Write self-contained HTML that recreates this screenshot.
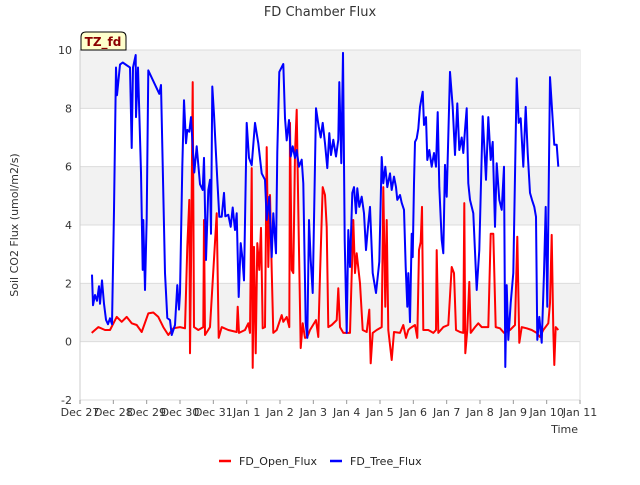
<!DOCTYPE html>
<html><head><meta charset="utf-8"><style>
body{margin:0;background:#fff;}
svg text{font-family:"DejaVu Sans","Liberation Sans",sans-serif;}
</style></head><body>
<svg id="chart" width="640" height="480" xmlns="http://www.w3.org/2000/svg">
<text x="320" y="16" text-anchor="middle" font-size="13" fill="#333">FD Chamber Flux</text>
<g id="bands"></g>
<g id="grid"></g>
<g id="yticks"></g>
<g id="xticks"></g>
<g id="series"></g>
<text transform="translate(18,225) rotate(-90)" text-anchor="middle" font-size="11" fill="#333">Soil CO2 Flux (umol/m2/s)</text>
<text x="578" y="433" text-anchor="end" font-size="11" fill="#333">Time</text>
<g>
<path d="M81,50 L81,37 Q81,32 86,32 L121,32 Q126,32 126,37 L126,50 Z" fill="#ffffcc" stroke="#000" stroke-width="1"/>
<text x="103" y="46" text-anchor="middle" font-size="12" font-weight="bold" fill="#8b0000">TZ_fd</text>
</g>
<g>
<g><line x1="219" y1="461" x2="231" y2="461" stroke="#f00" stroke-width="2.5"/><text x="239" y="465" font-size="11" fill="#222">FD_Open_Flux</text></g>
<g><line x1="330" y1="461" x2="342" y2="461" stroke="#00f" stroke-width="2.5"/><text x="350" y="465" font-size="11" fill="#222">FD_Tree_Flux</text></g>
</g>
</svg>
<script>
const xTickLabels=["Dec 27","Dec 28","Dec 29","Dec 30","Dec 31","Jan 1","Jan 2","Jan 3","Jan 4","Jan 5","Jan 6","Jan 7","Jan 8","Jan 9","Jan 10","Jan 11"];
const yTicks=[-2,0,2,4,6,8,10];
const treeT=[0.36,0.39,0.45,0.51,0.57,0.60,0.66,0.72,0.78,0.84,0.90,0.96,1.02,1.08,1.11,1.20,1.28,1.50,1.55,1.59,1.67,1.68,1.74,1.83,1.88,1.90,1.95,2.00,2.05,2.38,2.43,2.55,2.62,2.70,2.75,2.85,2.92,2.97,3.00,3.07,3.12,3.18,3.22,3.28,3.33,3.40,3.43,3.50,3.60,3.68,3.72,3.78,3.85,3.90,3.93,3.97,4.02,4.06,4.12,4.18,4.25,4.32,4.36,4.45,4.52,4.58,4.65,4.70,4.76,4.82,4.87,4.92,5.00,5.07,5.15,5.25,5.35,5.45,5.55,5.60,5.68,5.75,5.80,5.88,5.92,5.98,6.10,6.15,6.20,6.27,6.32,6.38,6.45,6.50,6.57,6.65,6.70,6.77,6.82,6.87,6.92,6.98,7.08,7.16,7.22,7.28,7.35,7.42,7.48,7.53,7.60,7.68,7.75,7.78,7.84,7.89,7.94,8.00,8.05,8.10,8.17,8.22,8.28,8.32,8.38,8.45,8.52,8.58,8.64,8.70,8.78,8.88,8.98,9.05,9.10,9.16,9.22,9.30,9.35,9.42,9.48,9.52,9.60,9.65,9.72,9.77,9.82,9.85,9.90,9.95,9.98,10.02,10.05,10.10,10.15,10.20,10.28,10.32,10.38,10.42,10.48,10.55,10.62,10.68,10.73,10.78,10.85,10.90,10.95,11.00,11.10,11.18,11.25,11.32,11.38,11.45,11.50,11.55,11.60,11.65,11.70,11.80,11.90,11.98,12.08,12.18,12.25,12.32,12.38,12.45,12.50,12.58,12.65,12.72,12.76,12.80,12.85,12.92,13.00,13.10,13.16,13.22,13.30,13.37,13.43,13.50,13.56,13.63,13.68,13.72,13.78,13.85,13.92,13.97,14.02,14.10,14.18,14.23,14.30,14.35];
const treeV=[2.3,1.25,1.6,1.4,1.9,1.3,2.1,1.3,0.75,0.6,0.8,0.6,4.5,9.4,8.45,9.5,9.57,9.4,6.64,9.4,9.83,7.7,9.4,5.8,2.46,4.17,1.77,4.24,9.3,8.5,8.8,2.35,0.81,0.74,0.23,0.57,1.94,1.1,1.67,6.0,8.28,6.8,7.26,7.2,7.7,6.33,5.8,6.7,5.4,5.2,6.3,2.8,5.2,5.55,3.7,8.75,7.8,6.9,5.55,4.28,4.28,5.1,4.3,4.35,3.94,4.6,3.83,4.4,1.53,3.38,2.9,2.1,7.5,6.3,6.05,7.5,6.8,5.77,5.55,4.17,4.97,2.9,4.4,3.03,6.5,9.25,9.52,7.67,6.9,7.6,6.35,6.7,6.3,6.57,6.0,6.24,5.43,0.64,0.13,4.17,2.8,1.67,8.0,7.37,7.0,7.5,6.8,5.95,7.15,6.4,6.92,6.35,6.92,8.9,6.12,9.9,3.49,0.3,3.83,2.56,5.1,5.3,4.4,5.26,4.62,4.97,4.4,3.14,3.94,4.62,2.35,1.67,2.74,6.33,5.43,6.0,5.3,5.77,5.2,5.66,5.3,4.86,5.03,4.76,4.52,2.56,1.2,2.35,0.67,3.7,2.9,5.43,6.85,6.97,7.3,8.05,8.57,7.43,7.7,6.23,6.57,6.0,6.47,6.0,7.87,5.3,3.49,3.03,6.06,4.97,9.25,8.05,6.4,8.17,6.57,7.0,6.47,7.26,8.0,5.43,4.86,4.4,1.77,3.14,7.73,5.55,7.7,6.23,6.85,3.94,6.12,4.86,4.52,6.0,-0.87,1.94,0.06,1.33,2.35,9.03,7.5,7.66,6.0,8.05,6.47,5.1,4.86,4.62,4.28,0.06,0.85,-0.04,2.35,4.62,1.2,9.07,7.6,6.75,6.75,6.0];
const openT=[0.35,0.55,0.75,0.90,1.10,1.25,1.40,1.55,1.70,1.85,2.05,2.20,2.35,2.50,2.65,2.80,3.00,3.15,3.22,3.28,3.30,3.33,3.38,3.42,3.55,3.70,3.72,3.75,3.90,4.10,4.16,4.25,4.45,4.70,4.73,4.77,4.95,5.05,5.10,5.15,5.18,5.22,5.27,5.32,5.38,5.43,5.48,5.55,5.60,5.65,5.70,5.75,5.80,5.90,6.05,6.10,6.20,6.28,6.30,6.35,6.40,6.45,6.50,6.55,6.62,6.68,6.75,6.82,6.90,7.08,7.15,7.20,7.28,7.35,7.40,7.45,7.55,7.70,7.75,7.80,7.90,8.10,8.20,8.25,8.30,8.40,8.48,8.60,8.68,8.72,8.78,8.90,9.05,9.10,9.16,9.20,9.25,9.35,9.42,9.60,9.70,9.78,9.85,9.90,10.05,10.12,10.17,10.22,10.26,10.30,10.45,10.60,10.68,10.70,10.75,10.90,11.05,11.15,11.22,11.28,11.40,11.50,11.53,11.56,11.62,11.68,11.72,11.85,11.95,12.05,12.25,12.32,12.40,12.47,12.60,12.72,12.90,13.05,13.12,13.18,13.25,13.40,13.55,13.70,13.80,13.90,14.05,14.10,14.15,14.20,14.23,14.27,14.35];
const openV=[0.3,0.5,0.4,0.4,0.85,0.68,0.85,0.63,0.57,0.33,0.97,1.0,0.85,0.5,0.23,0.46,0.5,0.46,3.25,4.86,-0.4,2.56,8.9,0.5,0.4,0.5,4.17,0.23,0.5,4.4,0.13,0.5,0.4,0.33,1.2,0.3,0.4,0.63,0.3,5.95,-0.9,3.25,-0.4,3.38,2.46,3.9,0.46,0.5,6.67,2.56,5.03,2.46,0.3,0.4,0.91,0.68,0.85,0.5,7.5,2.46,2.35,6.47,7.95,4.52,-0.22,0.63,0.13,0.16,0.4,0.74,0.16,2.28,5.3,5.03,3.94,0.5,0.57,0.74,1.83,0.5,0.3,0.3,4.17,2.35,3.03,2.0,0.4,0.33,1.1,-0.74,0.3,0.4,0.5,5.3,1.2,4.17,0.4,-0.63,0.33,0.3,0.57,0.13,0.4,0.46,0.57,0.13,3.14,3.42,4.62,0.4,0.4,0.3,0.4,3.14,0.3,0.5,0.57,2.56,2.35,0.4,0.33,0.3,4.75,-0.4,0.4,2.05,0.3,0.5,0.63,0.5,0.5,3.7,3.7,0.5,0.46,0.3,0.4,0.57,3.6,-0.04,0.5,0.46,0.4,0.3,0.16,0.4,0.63,1.33,3.66,0.4,-0.8,0.5,0.4];

const NS="http://www.w3.org/2000/svg";
const L=80,R=580,T=50,B=400,yMin=-2,yMax=10,tMax=15;
function xs(t){return L+(R-L)*t/tMax;}
function ys(v){return B-(B-T)*(v-yMin)/(yMax-yMin);}
function mk(tag,attrs,parent){const e=document.createElementNS(NS,tag);for(const k in attrs)e.setAttribute(k,attrs[k]);parent.appendChild(e);return e;}
const bands=document.getElementById('bands'),grid=document.getElementById('grid'),yg=document.getElementById('yticks'),xg=document.getElementById('xticks'),sg=document.getElementById('series');
const bg=mk('rect',{x:L,y:T,width:R-L,height:B-T,fill:'#fff',stroke:'#ddd'},bands);
for(let i=0;i<yTicks.length-1;i++){
  if(i%2===1){const b=mk('rect',{x:L,y:ys(yTicks[i+1]),width:R-L,height:ys(yTicks[i])-ys(yTicks[i+1]),fill:'#f2f2f2'},bands);
  
  }
}
yTicks.forEach(v=>{
  const g=mk('line',{x1:L,x2:R,y1:ys(v),y2:ys(v),stroke:'#dcdcdc','stroke-width':1},grid);
  
  
  const t=mk('text',{x:L-8,y:ys(v)+4,'text-anchor':'end','font-size':11,fill:'#333'},yg);
  t.textContent=v;
  
  
});
mk('line',{x1:L,x2:L,y1:T,y2:B,stroke:'#ccc'},grid);
xTickLabels.forEach((s,i)=>{
  mk('line',{x1:xs(i),x2:xs(i),y1:B,y2:B+4,stroke:'#999'},xg);
  const t=mk('text',{x:xs(i),y:B+16,'text-anchor':'middle','font-size':11,fill:'#333'},xg);
  t.textContent=s;
  
  
});
function line(ts,vs,color,name){
  const d=ts.map((t,i)=>(i?'L':'M')+xs(t).toFixed(1)+','+ys(vs[i]).toFixed(1)).join('');
  const p=mk('path',{d:d,fill:'none',stroke:color,'stroke-width':2,'stroke-linejoin':'round'},sg);
  
  
}
line(openT,openV,'#ff0000','open-flux-line');
line(treeT,treeV,'#0000ff','tree-flux-line');
</script>
</body></html>
